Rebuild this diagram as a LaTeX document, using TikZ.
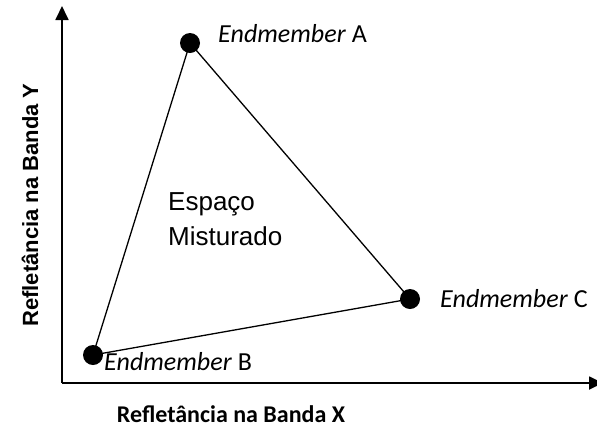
\documentclass[tikz,border=0pt]{standalone}
\usepackage{fontspec}
\setmainfont{Carlito}
\newfontfamily\arialfont{Liberation Sans}
\usetikzlibrary{arrows.meta}

\tikzset{
  dot/.style={circle, fill=black, inner sep=0pt, minimum size=20pt},
  emlabel/.style={font=\fontsize{26}{30}\selectfont, anchor=base west, inner sep=0pt},
  axis/.style={line width=1.8pt, -{Triangle[length=14pt, width=13pt]}}
}

\begin{document}
\begin{tikzpicture}[x=1pt, y=-1pt]
  \useasboundingbox (0,0) rectangle (597,432);

  % Axes
  \coordinate (O) at (62,383);
  \coordinate (xend) at (603,383);
  \coordinate (yend) at (62,6);
  \draw[axis] (O) -- (xend);
  \draw[axis] (O) -- (yend);
  \node[font=\bfseries\fontsize{24}{28}\selectfont, anchor=base] (xlab) at (231,422) {Refletância na Banda X};
  \node[font=\arialfont\bfseries\fontsize{22}{26}\selectfont, rotate=90, anchor=base] (ylab) at (38,205) {Refletância na Banda Y};

  % Endmembers
  \node[dot] (A) at (190,43) {};
  \node[dot] (B) at (93,355) {};
  \node[dot] (C) at (410,299) {};

  % Triangle
  \draw[line width=1.3pt] (A.center) -- (B.center) -- (C.center) -- (A.center);

  % Labels
  \node[emlabel] (labA) at (218,42) {\textit{Endmember} A};
  \node[emlabel] (labB) at (104,370) {\textit{Endmember} B};
  \node[emlabel] (labC) at (440,307) {\textit{Endmember} C};
  \node[font=\arialfont\fontsize{26}{30}\selectfont, anchor=base west, inner sep=0pt] (esp) at (168,210) {Espaço};
  \node[font=\arialfont\fontsize{26}{30}\selectfont, anchor=base west, inner sep=0pt] (mist) at (168,245) {Misturado};
\end{tikzpicture}
\end{document}
